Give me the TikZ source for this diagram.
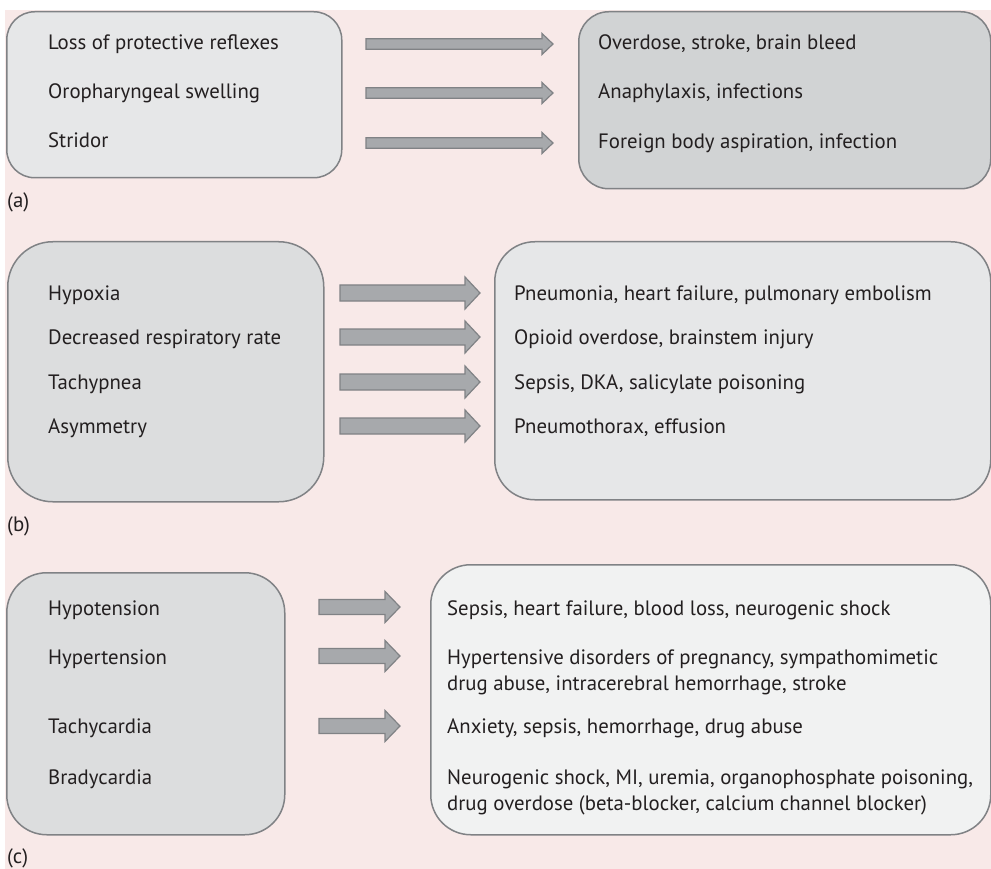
\documentclass[tikz,border=0pt]{standalone}
\usepackage{fontspec}
\setmainfont{PT Sans}
\definecolor{bgpink}{RGB}{248,233,232}
\definecolor{edgegray}{RGB}{128,130,133}
\definecolor{arrowfill}{RGB}{167,169,172}
\definecolor{boxlight}{RGB}{230,231,232}
\definecolor{boxdark}{RGB}{209,211,212}
\definecolor{boxmid}{RGB}{220,221,222}
\definecolor{boxpale}{RGB}{241,242,242}
\definecolor{ink}{RGB}{35,31,32}

\tikzset{
  panel/.style={draw=edgegray, line width=1.5pt, rounded corners=#1,
    inner sep=0pt, anchor=north west, rectangle},
  txt/.style={anchor=base west, inner sep=0pt, text=ink,
    font=\fontsize{20.8}{26}\selectfont, align=left},
  blockarrow/.style={fill=arrowfill, draw=edgegray, line width=1.2pt},
}
% block arrow: start x, shaft end x, tip x, centre y, shaft half width, head half width
\newcommand\blockarr[6]{%
  \draw[blockarrow] (#1,#4-#5) -- (#2,#4-#5) -- (#2,#4-#6) -- (#3,#4)
    -- (#2,#4+#6) -- (#2,#4+#5) -- (#1,#4+#5) -- cycle;}

\begin{document}
\begin{tikzpicture}[x=1pt, y=-1pt]
\useasboundingbox (0,0) rectangle (991,869);
\fill[white] (0,0) rectangle (991,869);
\fill[bgpink] (5,10) rectangle (991,869);

\begin{scope}
\clip (0,0) rectangle (991,869);
% panel (a)
\node[panel=28pt, fill=boxlight, minimum width=335pt, minimum height=166pt] (aL) at (6,11) {};
\node[panel=30pt, fill=boxdark, minimum width=412pt, minimum height=177pt] (aR) at (578,11) {};
% panel (b)
\node[panel=45pt, fill=boxmid, minimum width=316pt, minimum height=260pt] (bL) at (7,241) {};
\node[panel=40pt, fill=boxlight, minimum width=496pt, minimum height=258pt] (bR) at (494,241) {};
% panel (c)
\node[panel=40pt, fill=boxmid, minimum width=278pt, minimum height=262pt] (cL) at (6,572) {};
\node[panel=40pt, fill=boxpale, minimum width=560pt, minimum height=270pt] (cR) at (430,564) {};
\end{scope}

% arrows (a)
\blockarr{366}{542}{553}{44}{5.3}{10.5}
\blockarr{366}{542}{553}{93}{5.3}{10.5}
\blockarr{366}{542}{553}{143}{5.3}{10.5}
% arrows (b)
\blockarr{340}{465}{480}{293}{8}{16}
\blockarr{340}{465}{480}{337}{8}{16}
\blockarr{340}{465}{480}{382}{8}{16}
\blockarr{340}{465}{480}{426}{8}{16}
% arrows (c)
\blockarr{319}{385}{400}{607}{7.5}{15.5}
\blockarr{319}{385}{400}{656}{7.5}{15.5}
\blockarr{319}{385}{400}{726}{7.5}{15.5}

% texts (a)
\node[txt] (a1) at (48,50) {Loss of protective reflexes};
\node[txt] (a2) at (48,99) {Oropharyngeal swelling};
\node[txt] (a3) at (48,148) {Stridor};
\node[txt] (ra1) at (598,50) {Overdose, stroke, brain bleed};
\node[txt] (ra2) at (598,99) {Anaphylaxis, infections};
\node[txt] (ra3) at (598,149) {Foreign body aspiration, infection};
\node[txt] (la) at (7,208) {(a)};

% texts (b)
\node[txt] (b1) at (48,300) {Hypoxia};
\node[txt] (b2) at (48,344) {Decreased respiratory rate};
\node[txt] (b3) at (48,389) {Tachypnea};
\node[txt] (b4) at (48,433) {Asymmetry};
\node[txt] (rb1) at (514,300) {Pneumonia, heart failure, pulmonary embolism};
\node[txt] (rb2) at (514,344) {Opioid overdose, brainstem injury};
\node[txt] (rb3) at (514,389) {Sepsis, DKA, salicylate poisoning};
\node[txt] (rb4) at (514,433) {Pneumothorax, effusion};
\node[txt] (lb) at (7,531) {(b)};

% texts (c); two-line entries sit on the baseline of their last line
\node[txt] (c1) at (48,615) {Hypotension};
\node[txt] (c2) at (48,664) {Hypertension};
\node[txt] (c3) at (48,733) {Tachycardia};
\node[txt] (c4) at (48,784) {Bradycardia};
\node[txt] (rc1) at (447,615) {Sepsis, heart failure, blood loss, neurogenic shock};
\node[txt] (rc2) at (447,690) {Hypertensive disorders of pregnancy, sympathomimetic\\drug abuse, intracerebral hemorrhage, stroke};
\node[txt] (rc3) at (447,733) {Anxiety, sepsis, hemorrhage, drug abuse};
\node[txt] (rc4) at (447,810) {Neurogenic shock, MI, uremia, organophosphate poisoning,\\drug overdose (beta-blocker, calcium channel blocker)};
\node[txt] (lc) at (7,863) {(c)};
\end{tikzpicture}
\end{document}
